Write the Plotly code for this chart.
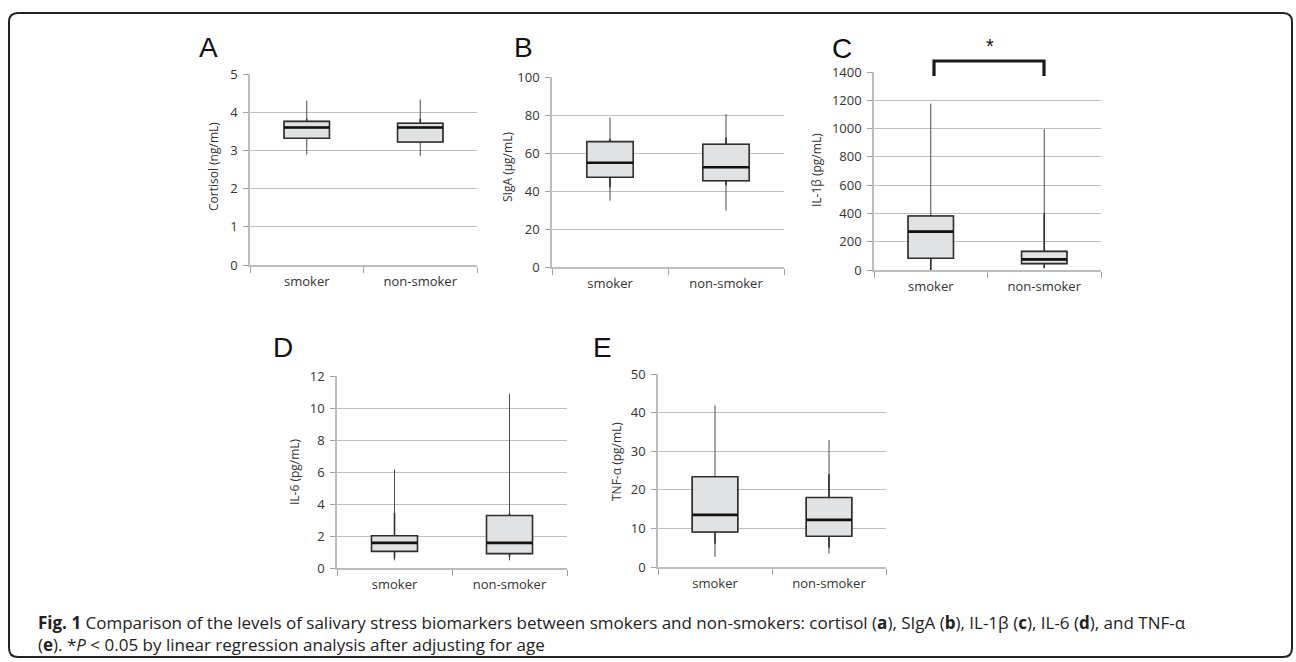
import plotly.graph_objects as go

W, H = 1296, 662

groups = ["smoker", "non-smoker"]

# panel data: [smoker, non-smoker]
panels = ["A", "B", "C", "D", "E"]
y_titles = ["Cortisol (ng/mL)", "SIgA (µg/mL)", "IL-1β (pg/mL)", "IL-6 (pg/mL)", "TNF-α (pg/mL)"]
y_max = [5, 100, 1400, 12, 50]
y_dtick = [1, 20, 200, 2, 10]

cortisol_min = [2.89, 2.85]
cortisol_q1 = [3.32, 3.22]
cortisol_med = [3.60, 3.60]
cortisol_q3 = [3.76, 3.71]
cortisol_max = [4.30, 4.33]
cortisol_in_lo = [3.30, 3.20]
cortisol_in_hi = [3.83, 3.83]

siga_min = [34.9, 29.6]
siga_q1 = [47.2, 45.4]
siga_med = [54.9, 52.5]
siga_q3 = [66.0, 64.6]
siga_max = [78.7, 80.5]
siga_in_lo = [42.0, 43.0]
siga_in_hi = [67.5, 68.0]

il1b_min = [0, 12]
il1b_q1 = [83, 45]
il1b_med = [271, 75]
il1b_q3 = [382, 132]
il1b_max = [1176, 996]
il1b_in_lo = [0, 15]
il1b_in_hi = [390, 401]

il6_min = [0.48, 0.48]
il6_q1 = [1.04, 0.90]
il6_med = [1.57, 1.57]
il6_q3 = [2.02, 3.28]
il6_max = [6.16, 10.9]
il6_in_lo = [0.60, 0.70]
il6_in_hi = [3.46, 3.40]

tnfa_min = [2.6, 3.46]
tnfa_q1 = [9.08, 7.96]
tnfa_med = [13.5, 12.2]
tnfa_q3 = [23.4, 18.0]
tnfa_max = [41.9, 32.9]
tnfa_in_lo = [6.0, 5.0]
tnfa_in_hi = [23.4, 24.0]

data = [
    (cortisol_min, cortisol_q1, cortisol_med, cortisol_q3, cortisol_max, cortisol_in_lo, cortisol_in_hi),
    (siga_min, siga_q1, siga_med, siga_q3, siga_max, siga_in_lo, siga_in_hi),
    (il1b_min, il1b_q1, il1b_med, il1b_q3, il1b_max, il1b_in_lo, il1b_in_hi),
    (il6_min, il6_q1, il6_med, il6_q3, il6_max, il6_in_lo, il6_in_hi),
    (tnfa_min, tnfa_q1, tnfa_med, tnfa_q3, tnfa_max, tnfa_in_lo, tnfa_in_hi),
]

# pixel boxes of plot areas (x0, x1, ytop, ybottom)
areas = [
    (250, 477, 74, 265),
    (552, 784, 77, 267),
    (874, 1101, 72, 270),
    (337, 567, 376, 568),
    (658, 886, 374, 567),
]
letter_pos = [(208, 47), (523, 47), (842, 48), (283, 347), (602, 348)]
title_pos = [(213, 167), (507, 167), (817, 170), (295, 472), (616, 462)]

def px(x):
    return x / W

def py(y):
    return 1 - y / H

fig = go.Figure()
GRID = "#bdbdbd"
FILL = "#e1e2e4"
TXT = "#333333"
FONT = "Open Sans"

layout = dict(
    width=W, height=H, margin=dict(l=0, r=0, t=0, b=0, autoexpand=False),
    paper_bgcolor="white", plot_bgcolor="white", showlegend=False,
)
annotations = []
shapes = []

for i, (mn, q1, med, q3, mx, ilo, ihi) in enumerate(data):
    n = i + 1
    xa = "x" if n == 1 else f"x{n}"
    ya = "y" if n == 1 else f"y{n}"
    # outer whiskers
    fig.add_trace(go.Box(
        x=groups, q1=q1, median=med, q3=q3, lowerfence=mn, upperfence=mx,
        width=0.4, whiskerwidth=0, fillcolor=FILL, boxpoints=False,
        line=dict(color="#4a4a4a", width=1), xaxis=xa, yaxis=ya, hoverinfo="skip",
    ))
    # inner (darker) whisker segments and box outline
    fig.add_trace(go.Box(
        x=groups, q1=q1, median=med, q3=q3, lowerfence=ilo, upperfence=ihi,
        width=0.4, whiskerwidth=0, fillcolor=FILL, boxpoints=False,
        line=dict(color="#2e2e2e", width=1.6), xaxis=xa, yaxis=ya, hoverinfo="skip",
    ))
    # thick median line
    fig.add_trace(go.Box(
        x=groups, q1=med, median=med, q3=med, lowerfence=med, upperfence=med,
        width=0.4, whiskerwidth=0, fillcolor="rgba(0,0,0,0)", boxpoints=False,
        line=dict(color="#111111", width=2.6), xaxis=xa, yaxis=ya, hoverinfo="skip",
    ))

    x0, x1, yt, yb = areas[i]
    xkey = "xaxis" if n == 1 else f"xaxis{n}"
    ykey = "yaxis" if n == 1 else f"yaxis{n}"
    layout[xkey] = dict(
        domain=[px(x0), px(x1)], anchor=ya, type="category",
        categoryorder="array", categoryarray=groups, range=[-0.5, 1.5],
        tickson="boundaries", ticks="outside", ticklen=6, tickcolor="#a0a0a0",
        showline=True, linecolor=GRID, linewidth=1.5, showgrid=False,
        tickfont=dict(family=FONT, size=13, color=TXT), ticklabelstandoff=4,
        fixedrange=True, automargin=False,
    )
    layout[ykey] = dict(
        domain=[py(yb), py(yt)], anchor=xa, range=[0, y_max[i]], dtick=y_dtick[i],
        showgrid=True, gridcolor=GRID, gridwidth=1.4, zeroline=False,
        showline=True, linecolor=GRID, linewidth=1.5,
        ticks="outside", ticklen=5, tickcolor="#a0a0a0",
        tickfont=dict(family=FONT, size=13, color=TXT), ticklabelstandoff=3,
        fixedrange=True, automargin=False,
    )
    lx, ly = letter_pos[i]
    annotations.append(dict(
        text=panels[i], x=px(lx), y=py(ly), xref="paper", yref="paper",
        showarrow=False, xanchor="center", yanchor="middle",
        font=dict(family="Liberation Sans", size=28, color="#111111"),
    ))
    tx, ty = title_pos[i]
    annotations.append(dict(
        text=y_titles[i], x=px(tx), y=py(ty), xref="paper", yref="paper",
        showarrow=False, xanchor="center", yanchor="middle", textangle=-90,
        font=dict(family=FONT, size=12, color=TXT),
    ))

# significance bracket for panel C
bx0, bx1, btop, bleg = 934, 1044, 61, 76
shapes.append(dict(
    type="path", xref="paper", yref="paper",
    path=f"M {px(bx0)},{py(bleg)} L {px(bx0)},{py(btop)} L {px(bx1)},{py(btop)} L {px(bx1)},{py(bleg)}",
    line=dict(color="#1a1a1a", width=3.2),
))
annotations.append(dict(
    text="*", x=px(990), y=py(46), xref="paper", yref="paper", showarrow=False,
    xanchor="center", yanchor="middle", font=dict(family="Liberation Sans", size=20, color="#111111"),
))

# rounded frame
fx0, fx1, fy0, fy1, r = 9, 1292, 13, 657, 9
rx, ry = r / W, r / H
X0, X1, Y0, Y1 = px(fx0), px(fx1), py(fy0), py(fy1)
frame = (
    f"M {X0 + rx},{Y0} L {X1 - rx},{Y0} Q {X1},{Y0} {X1},{Y0 - ry} "
    f"L {X1},{Y1 + ry} Q {X1},{Y1} {X1 - rx},{Y1} "
    f"L {X0 + rx},{Y1} Q {X0},{Y1} {X0},{Y1 + ry} "
    f"L {X0},{Y0 - ry} Q {X0},{Y0} {X0 + rx},{Y0} Z"
)
shapes.append(dict(type="path", xref="paper", yref="paper", path=frame,
                   line=dict(color="#222222", width=2)))

caption = ("<b>Fig. 1</b> Comparison of the levels of salivary stress biomarkers between smokers and "
           "non-smokers: cortisol (<b>a</b>), SIgA (<b>b</b>), IL-1β (<b>c</b>), IL-6 (<b>d</b>), and TNF-α"
           "<br>(<b>e</b>). *<i>P</i> &lt; 0.05 by linear regression analysis after adjusting for age")
annotations.append(dict(
    text=caption, x=px(36), y=py(633), xref="paper", yref="paper", showarrow=False,
    xanchor="left", yanchor="middle", align="left",
    font=dict(family=FONT, size=17, color="#222222"),
))

layout["annotations"] = annotations
layout["shapes"] = shapes
fig.update_layout(**layout)
fig.write_html(
    "out.html",
    config={"displayModeBar": False},
    post_script="document.body.style.margin='0px';document.documentElement.style.overflow='hidden';",
)
